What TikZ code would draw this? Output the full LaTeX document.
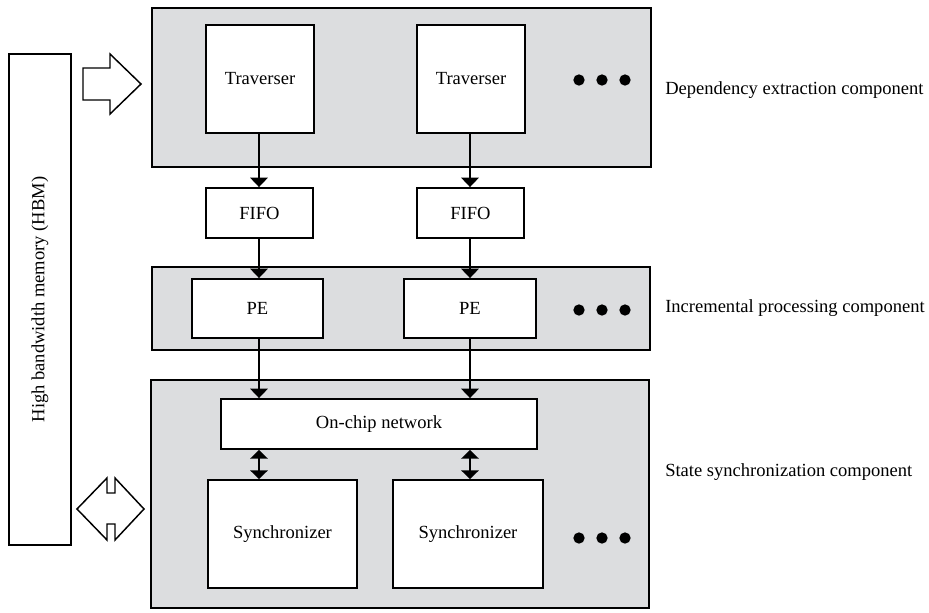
\documentclass[tikz,border=0pt]{standalone}
\usepackage{fontspec}
\setmainfont{Liberation Serif}
\usepackage{tikz}
\usetikzlibrary{arrows.meta}
\definecolor{panelgray}{RGB}{220,221,223}
\tikzset{
  panel/.style 2 args={draw, fill=panelgray, line width=1.4pt, minimum width=#1*0.75pt, minimum height=#2*0.75pt, inner sep=0pt},
  blk/.style 2 args={draw, fill=white, line width=1.4pt, minimum width=#1*0.75pt, minimum height=#2*0.75pt, inner sep=0pt},
  dot/.style={circle, fill=black, inner sep=0pt, minimum size=8.5pt},
  lbl/.style={anchor=west, inner sep=0pt},
  flow/.style={line width=1.4pt, -{Triangle[width=13pt, length=7pt]}},
  duplex/.style={line width=1.4pt, {Triangle[width=13pt, length=6.5pt]}-{Triangle[width=13pt, length=6.5pt]}},
  hollow/.style={draw, fill=white, line width=1.1pt, line join=miter}
}

\begin{document}
\begin{tikzpicture}[x=0.75pt, y=-0.75pt, every node/.style={font=\fontsize{13.9}{16}\selectfont}]
  \useasboundingbox (0,0) rectangle (929,612);
  % memory
  \node[blk={62}{491}] (hbm) at (40,299.5) {};
  \node[rotate=90] (hbmtxt) at (hbm) {High bandwidth memory (HBM)};
  \path[hollow] (83,68) -- (110,68) -- (110,54) -- (141,84) -- (110,114) -- (110,100) -- (83,100) -- cycle;
  \path[hollow] (77,509) -- (107,478) -- (107,493) -- (115,493) -- (115,478) -- (144,509)
    -- (115,540) -- (115,524) -- (107,524) -- (107,540) -- cycle;
  % panels
  \node[panel={499}{159}] (extract) at (401.5,87.5) {};
  \node[panel={498}{83}] (proc) at (401,308.5) {};
  \node[panel={498}{228}] (sync) at (400,494) {};
  % dependency extraction
  \node[blk={108}{108}] (trav1) at (260,79) {Traverser};
  \node[blk={108}{108}] (trav2) at (471,79) {Traverser};
  \node[blk={107}{50}] (fifo1) at (259.5,213) {FIFO};
  \node[blk={107}{50}] (fifo2) at (470.5,213) {FIFO};
  % incremental processing
  \node[blk={131}{59}] (pe1) at (257.5,308.5) {PE};
  \node[blk={132}{59}] (pe2) at (470,308.5) {PE};
  % state synchronization
  \node[blk={316}{50}] (net) at (379,424) {On-chip network};
  \node[blk={149}{108}] (syn1) at (282.5,534) {Synchronizer};
  \node[blk={150}{108}] (syn2) at (468,534) {Synchronizer};
  % dots
  \foreach \yy/\nm in {80/a,310/b,538/c}{
    \node[dot] (\nm1) at (579,\yy) {};
    \node[dot] (\nm2) at (602,\yy) {};
    \node[dot] (\nm3) at (625,\yy) {};
  }
  % connectors
  \draw[flow] (259,133) coordinate (t1) -- (t1 |- fifo1.north);
  \draw[flow] (470,133) coordinate (t2) -- (t2 |- fifo2.north);
  \draw[flow] (t1 |- fifo1.south) -- (t1 |- pe1.north);
  \draw[flow] (t2 |- fifo2.south) -- (t2 |- pe2.north);
  \draw[flow] (t1 |- pe1.south) -- (t1 |- net.north);
  \draw[flow] (t2 |- pe2.south) -- (t2 |- net.north);
  \draw[duplex] (t1 |- net.south) -- (t1 |- syn1.north);
  \draw[duplex] (t2 |- net.south) -- (t2 |- syn2.north);
  % labels
  \node[lbl] (lextract) at (665,90) {Dependency extraction component};
  \node[lbl] (lproc) at (665,308.5) {Incremental processing component};
  \node[lbl] (lsync) at (665,472) {State synchronization component};
\end{tikzpicture}
\end{document}
